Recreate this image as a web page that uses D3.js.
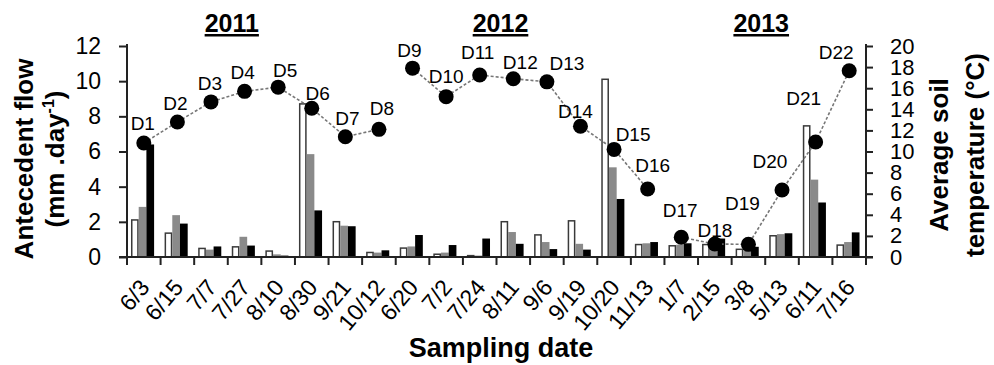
<!DOCTYPE html>
<html lang="en">
<head>
<meta charset="UTF-8">
<title>Antecedent flow and soil temperature</title>
<script src="https://d3js.org/d3.v7.min.js"></script>
<style>
    body { margin: 0; background: #fff; }
    svg { display: block; font-family: "Liberation Sans", Arial, sans-serif; }
    .tick-label { font-size: 23px; fill: #000; }
    .tick-label.r { font-size: 22px; }
    .axis-title { font-size: 26px; font-weight: bold; fill: #000; }
    .year { font-size: 25px; font-weight: bold; text-decoration: underline; }
    .dlabel { font-size: 19px; fill: #000; }
</style>
</head>
<body>
<svg id="chart" width="994" height="365"></svg>
<script>
// sampling dates (x categories)
const dates = ["6/3", "6/15", "7/7", "7/27", "8/10", "8/30", "9/21", "10/12",
    "6/20", "7/2", "7/24", "8/11", "9/6", "9/19", "10/20", "11/13",
    "1/7", "2/15", "3/8", "5/13", "6/11", "7/16"];
const years = ["2011", "2011", "2011", "2011", "2011", "2011", "2011", "2011",
    "2012", "2012", "2012", "2012", "2012", "2012", "2012", "2012",
    "2013", "2013", "2013", "2013", "2013", "2013"];
const sampleIds = dates.map((d, i) => "D" + (i + 1));

// antecedent flow (mm/day), three series: white, grey, black bars
const flowWhite = [2.15, 1.4, 0.53, 0.62, 0.38, 8.75, 2.05, 0.3, 0.55, 0.2, 0.12,
    2.05, 1.3, 2.1, 10.15, 0.75, 0.68, 0.75, 0.48, 1.25, 7.5, 0.72];
const flowGrey = [2.85, 2.38, 0.42, 1.15, 0.15, 5.85, 1.78, 0.25, 0.6, 0.25, 0.08,
    1.42, 0.85, 0.75, 5.1, 0.78, 0.7, 0.55, 0.45, 1.3, 4.4, 0.85];
const flowBlack = [6.4, 1.9, 0.6, 0.65, 0.08, 2.65, 1.75, 0.38, 1.25, 0.68, 1.05,
    0.75, 0.45, 0.42, 3.3, 0.85, 0.78, 1.05, 0.58, 1.35, 3.1, 1.4];

// average soil temperature (°C)
const soilTemp = [10.8, 12.8, 14.7, 15.7, 16.1, 14.1, 11.4, 12.1, 17.9, 15.2, 17.25,
    16.9, 16.6, 12.4, 10.2, 6.45, 1.87, 1.23, 1.2, 6.35, 10.9, 17.65];

const leftTicks = [0, 2, 4, 6, 8, 10, 12];
const rightTicks = [0, 2, 4, 6, 8, 10, 12, 14, 16, 18, 20];

// label nudges for the D1..D22 annotations (dx, dy from the marker)
const labelNudge = [[-1, -13], [-2, -12], [-1, -12], [-2, -12], [7, -10], [6, -8],
    [2, -12], [3, -14], [-3, -11], [0, -14], [-2, -16], [7, -10], [20, -12],
    [-5, -8], [19, -8], [5, -17], [-1, -20], [0, -7], [-6, -34], [-12, -22],
    [-12, -37], [-13, -12]];

const svg = d3.select("#chart");
const plotL = 127, plotR = 866, plotT = 46, plotB = 257;

const x = d3.scaleBand().domain(dates).range([plotL, plotR]).padding(0);
const yL = d3.scaleLinear().domain([0, 12]).range([plotB, plotT]);
const yR = d3.scaleLinear().domain([0, 20]).range([plotB, plotT]);

// bars
const series = [
    { values: flowWhite, fill: "#fff", stroke: "#3a3a3a" },
    { values: flowGrey, fill: "#8a8a8a", stroke: "none" },
    { values: flowBlack, fill: "#000", stroke: "none" }
];
const barW = 7.7, groupOffset = 4;
series.forEach((s, k) => {
    const inset = s.stroke !== "none" ? 0.75 : 0;
    svg.append("g").selectAll("rect")
        .data(s.values)
        .enter().append("rect")
        .attr("x", (v, i) => x(dates[i]) + groupOffset + k * barW + inset)
        .attr("y", v => yL(v) + inset)
        .attr("width", barW - 2 * inset)
        .attr("height", v => Math.max(0, plotB - yL(v) - inset))
        .attr("fill", s.fill)
        .attr("stroke", s.stroke)
        .attr("stroke-width", 1.5);
});

// left axis
const axL = svg.append("g")
    .attr("transform", `translate(${plotL},0)`)
    .call(d3.axisLeft(yL).tickValues(leftTicks).tickSize(8).tickPadding(18));

// right axis
const axR = svg.append("g")
    .attr("transform", `translate(${plotR},0)`)
    .call(d3.axisRight(yR).tickValues(rightTicks).tickSize(7).tickPadding(17));

[axL, axR].forEach(a => {
    a.attr("font-size", null).attr("font-family", null);
    a.select(".domain").attr("stroke", "#222").attr("stroke-width", 2)
        .attr("d", `M0,${plotB}V${plotT - 2}`);
    a.selectAll(".tick line").attr("stroke", "#222").attr("stroke-width", 2);
    a.selectAll(".tick text").attr("class", a === axR ? "tick-label r" : "tick-label");
});

// x axis line and boundary ticks
const gx = svg.append("g");
gx.append("line")
    .attr("x1", plotL - 8).attr("x2", plotR + 7)
    .attr("y1", plotB).attr("y2", plotB)
    .attr("stroke", "#222").attr("stroke-width", 2);
gx.selectAll("line.tk")
    .data(dates.map(d => x(d)).concat([plotR]))
    .enter().append("line")
    .attr("class", "tk")
    .attr("x1", d => d).attr("x2", d => d)
    .attr("y1", plotB).attr("y2", plotB + 8)
    .attr("stroke", "#222").attr("stroke-width", 2);
gx.selectAll("text")
    .data(dates)
    .enter().append("text")
    .attr("class", "tick-label")
    .attr("text-anchor", "end")
    .attr("transform", d => `translate(${x(d) + x.bandwidth() / 2 + 7},288) rotate(-50)`)
    .text(d => d);

// soil temperature line, one segment per year
const line = d3.line()
    .x(i => x(dates[i]) + x.bandwidth() / 2)
    .y(i => yR(soilTemp[i]));
const byYear = d3.groups(d3.range(dates.length), i => years[i]);
svg.append("g").selectAll("path")
    .data(byYear)
    .enter().append("path")
    .attr("d", g => line(g[1]))
    .attr("fill", "none")
    .attr("stroke", "#777")
    .attr("stroke-width", 1.6)
    .attr("stroke-dasharray", "3,2");

svg.append("g").selectAll("circle")
    .data(soilTemp)
    .enter().append("circle")
    .attr("cx", (v, i) => x(dates[i]) + x.bandwidth() / 2)
    .attr("cy", v => yR(v))
    .attr("r", 7.5)
    .attr("fill", "#000");

svg.append("g").selectAll("text")
    .data(soilTemp)
    .enter().append("text")
    .attr("class", "dlabel")
    .attr("text-anchor", "middle")
    .attr("x", (v, i) => x(dates[i]) + x.bandwidth() / 2 + labelNudge[i][0])
    .attr("y", (v, i) => yR(v) + labelNudge[i][1])
    .text((v, i) => sampleIds[i]);

// year headings
const yearHead = [["2011", "7/27", 4], ["2012", "8/11", 4], ["2013", "5/13", -4]];
svg.append("g").selectAll("text")
    .data(yearHead)
    .enter().append("text")
    .attr("class", "year")
    .attr("text-anchor", "middle")
    .attr("x", d => x(d[1]) + d[2])
    .attr("y", 32)
    .text(d => d[0]);

// axis titles
const lt = svg.append("text").attr("class", "axis-title")
    .attr("text-anchor", "middle")
    .attr("transform", "translate(0,159) rotate(-90)");
lt.append("tspan").attr("x", 0).attr("y", 33).text("Antecedent flow");
const lt2 = lt.append("tspan").attr("x", 0).attr("y", 64);
lt2.append("tspan").text("(mm .day");
lt2.append("tspan").attr("dy", -10).style("font-size", "16px").text("-1");
lt2.append("tspan").attr("dy", 10).text(")");

const rt = svg.append("text").attr("class", "axis-title")
    .attr("text-anchor", "middle")
    .attr("transform", "translate(0,155) rotate(-90)");
rt.append("tspan").attr("x", 0).attr("y", 948).text("Average soil");
rt.append("tspan").attr("x", 0).attr("y", 984).text("temperature (°C)");

svg.append("text").attr("class", "axis-title")
    .attr("text-anchor", "middle")
    .style("font-size", "27px")
    .attr("x", 501).attr("y", 357)
    .text("Sampling date");
</script>
</body>
</html>
